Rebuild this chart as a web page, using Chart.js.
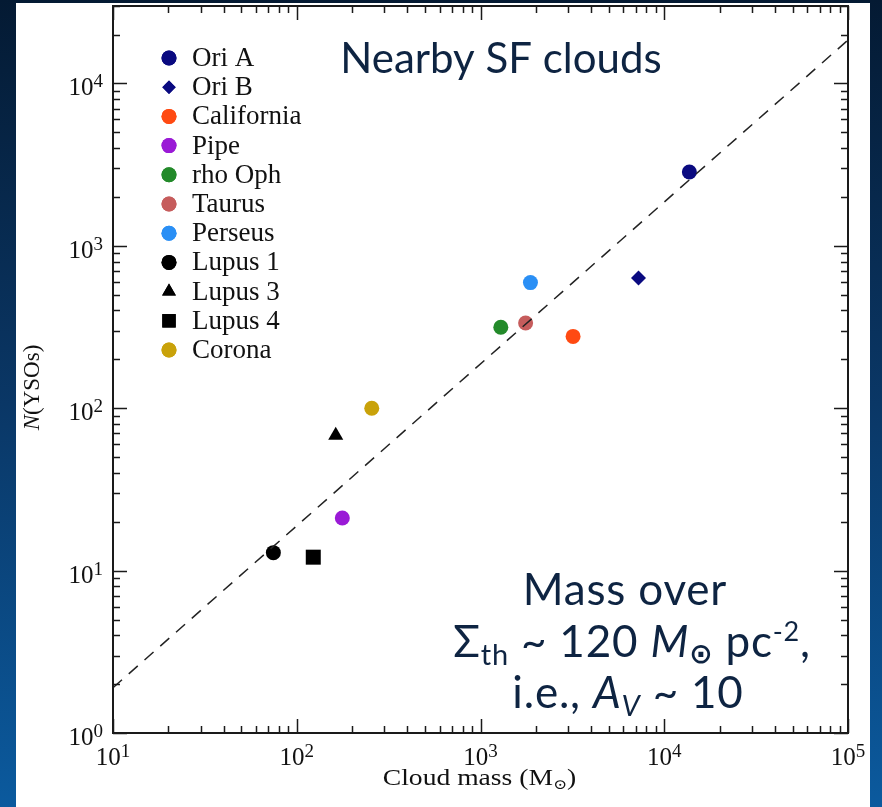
<!DOCTYPE html>
<html>
<head>
<meta charset="utf-8">
<script src="https://cdn.jsdelivr.net/npm/chart.js@4"></script>
<style>
  html, body { margin: 0; padding: 0; }
  body {
    width: 882px; height: 807px; overflow: hidden;
    background: linear-gradient(to bottom, #041a33 0%, #0a3766 50%, #0b5a9e 100%);
    position: relative;
  }
  #wrap { position: absolute; left: 16px; top: 3px; width: 854px; height: 804px; background: #fff; }
</style>
</head>
<body>
<div id="wrap"><canvas id="chart"></canvas></div>
<script>
// --- Data ---
const clouds = ['Ori A', 'Ori B', 'California', 'Pipe', 'rho Oph', 'Taurus', 'Perseus', 'Lupus 1', 'Lupus 3', 'Lupus 4', 'Corona'];
const cloudMass = [13700, 7240, 3190, 177, 1290, 1760, 1870, 74.6, 163, 123, 256];
const nYSOs = [2850, 634, 277, 21.1, 315, 335, 594, 12.9, 68, 12.1, 100];
const cloudColors = ['#0a0a80', '#0a0a80', '#ff4a12', '#9a1ad6', '#238a2a', '#c65c5c', '#2a8ff5', '#000000', '#000000', '#000000', '#c9a20a'];
const cloudMarkers = ['circle', 'rectRot', 'circle', 'circle', 'circle', 'circle', 'circle', 'circle', 'triangle', 'rect', 'circle'];

// dashed relation N ~ M
const fitMass = [10, 100000];
const fitN = [1.9, 18500];

const xTickLabels = ['1', '2', '3', '4', '5'];   // exponents of 10
const yTickLabels = ['0', '1', '2', '3', '4'];

const TEXT_BLUE = '#0e2442';
const SERIF = '"Liberation Serif", "DejaVu Serif", serif';
const SANS = 'Lato, "Open Sans", sans-serif';

function markerRadius(style, legend) {
  if (style === 'rect') return legend ? 9.5 : 10.6;
  if (style === 'triangle') return legend ? 8 : 8.7;
  if (style === 'rectRot') return legend ? 6.7 : 7.5;
  return 7.5;
}

// --- Datasets ---
const datasets = [{
  type: 'line',
  label: 'fit',
  data: fitMass.map((m, i) => ({ x: m, y: fitN[i] })),
  borderColor: '#222',
  borderWidth: 1.5,
  borderDash: [12, 9],
  pointRadius: 0,
  fill: false,
  order: 0,
}].concat(clouds.map((name, i) => ({
  type: 'scatter',
  label: name,
  data: [{ x: cloudMass[i], y: nYSOs[i] }],
  backgroundColor: cloudColors[i],
  borderWidth: 0,
  pointStyle: cloudMarkers[i],
  pointRadius: markerRadius(cloudMarkers[i], false),
  order: 1,
})));

// --- Helpers for text with super/subscripts ---
function drawRuns(ctx, runs, x, y, align, spacing) {
  ctx.letterSpacing = (spacing || 0) + 'px';
  let total = 0;
  runs.forEach((r) => { ctx.font = r.font; r.w = ctx.measureText(r.t).width; total += r.w; });
  let cx = align === 'center' ? x - total / 2 : align === 'right' ? x - total : x;
  ctx.textAlign = 'left';
  ctx.textBaseline = 'alphabetic';
  runs.forEach((r) => {
    ctx.font = r.font;
    ctx.fillText(r.t, cx, y + (r.dy || 0));
    cx += r.w;
  });
  ctx.letterSpacing = '0px';
}

const framePlugin = {
  id: 'frame',
  afterDatasetsDraw(chart) {
    const { ctx, chartArea: a, scales } = chart;
    const xs = scales.x, ys = scales.y;
    ctx.save();
    ctx.strokeStyle = '#1a1a1a';

    // ticks on all four sides, pointing inward
    ctx.lineWidth = 1.5;
    ctx.beginPath();
    for (let k = 1; k <= 5; k++) {
      for (let m = 1; m <= 9; m++) {
        const v = m * Math.pow(10, k);
        if (v > xs.max) break;
        const px = Math.round(xs.getPixelForValue(v)) + 0.5;
        const len = m === 1 ? 14 : 7;
        ctx.moveTo(px, a.bottom); ctx.lineTo(px, a.bottom - len);
        ctx.moveTo(px, a.top); ctx.lineTo(px, a.top + len);
      }
    }
    for (let k = 0; k <= 4; k++) {
      for (let m = 1; m <= 9; m++) {
        const v = m * Math.pow(10, k);
        if (v > ys.max) break;
        const py = Math.round(ys.getPixelForValue(v)) + 0.5;
        const len = m === 1 ? 14 : 7;
        ctx.moveTo(a.left, py); ctx.lineTo(a.left + len, py);
        ctx.moveTo(a.right, py); ctx.lineTo(a.right - len, py);
      }
    }
    ctx.stroke();

    ctx.lineWidth = 2;
    ctx.strokeRect(a.left, a.top, a.right - a.left, a.bottom - a.top);

    // tick labels
    ctx.fillStyle = '#111';
    xTickLabels.forEach((e) => {
      const px = xs.getPixelForValue(Math.pow(10, +e));
      drawRuns(ctx, [
        { t: '10', font: '25px ' + SERIF },
        { t: e, font: '19px ' + SERIF, dy: -8 },
      ], px, a.bottom + 32, 'center');
    });
    yTickLabels.forEach((e) => {
      const py = ys.getPixelForValue(Math.pow(10, +e));
      drawRuns(ctx, [
        { t: '10', font: '25px ' + SERIF },
        { t: e, font: '19px ' + SERIF, dy: -8 },
      ], a.left - 10, py + 12, 'right');
    });

    // axis titles
    ctx.save();
    ctx.translate((a.left + a.right) / 2 - 1, a.bottom + 52);
    ctx.scale(1.2, 1);
    drawRuns(ctx, [
      { t: 'Cloud mass (M', font: '23px ' + SERIF },
      { t: '\u2299', font: '14px ' + SERIF, dy: 4 },
      { t: ')', font: '23px ' + SERIF },
    ], 0, 0, 'center');
    ctx.restore();

    ctx.save();
    ctx.translate(23, (a.top + a.bottom) / 2 + 18);
    ctx.rotate(-Math.PI / 2);
    drawRuns(ctx, [
      { t: 'N', font: 'italic 23px ' + SERIF },
      { t: '(YSOs)', font: '23px ' + SERIF },
    ], 0, 0, 'center');
    ctx.restore();

    // legend
    const lx = a.left + 56, ly = a.top + 52, step = 29.2;
    clouds.forEach((name, i) => {
      const cy = ly + i * step;
      ctx.fillStyle = cloudColors[i];
      Chart.helpers.drawPoint(ctx, {
        pointStyle: cloudMarkers[i],
        radius: markerRadius(cloudMarkers[i], true),
        rotation: 0,
        borderWidth: 0,
      }, lx, cy);
      ctx.fill();
      ctx.fillStyle = '#111';
      ctx.font = '27px ' + SERIF;
      ctx.textAlign = 'left';
      ctx.textBaseline = 'alphabetic';
      ctx.fillText(name, lx + 23, cy + 8);
    });

    // annotations
    ctx.fillStyle = TEXT_BLUE;
    drawRuns(ctx, [{ t: 'Nearby SF clouds', font: '42px ' + SANS }], 485, 70, 'center', 0);
    drawRuns(ctx, [{ t: 'Mass over', font: '44px ' + SANS }], 609, 602, 'center', 0.8);
    drawRuns(ctx, [
      { t: '\u03A3', font: '44px ' + SANS },
      { t: 'th', font: '29px ' + SANS, dy: 8 },
      { t: ' ~ 120 ', font: '44px ' + SANS },
      { t: 'M', font: 'italic 44px ' + SANS },
      { t: '\u2299', font: 'bold 28px "DejaVu Sans", sans-serif', dy: 6 },
      { t: ' pc', font: '44px ' + SANS },
      { t: '-2', font: '27px ' + SANS, dy: -16 },
      { t: ',', font: '44px ' + SANS },
    ], 616, 654, 'center', 0.8);
    drawRuns(ctx, [
      { t: 'i.e., ', font: '44px ' + SANS },
      { t: 'A', font: 'italic 44px ' + SANS },
      { t: 'V', font: 'italic 29px ' + SANS, dy: 8 },
      { t: ' ~ 10', font: '44px ' + SANS },
    ], 612, 705, 'center', 0.8);

    ctx.restore();
  },
};

new Chart(document.getElementById('chart'), {
  data: { datasets },
  options: {
    responsive: true,
    maintainAspectRatio: false,
    animation: false,
    layout: { autoPadding: false, padding: { left: 97, right: 22, top: 3, bottom: 74 } },
    plugins: { legend: { display: false }, tooltip: { enabled: false } },
    scales: {
      x: { type: 'logarithmic', min: 10, max: 100000, display: false },
      y: { type: 'logarithmic', min: 1, max: 30000, display: false },
    },
  },
  plugins: [framePlugin],
});
</script>
</body>
</html>
